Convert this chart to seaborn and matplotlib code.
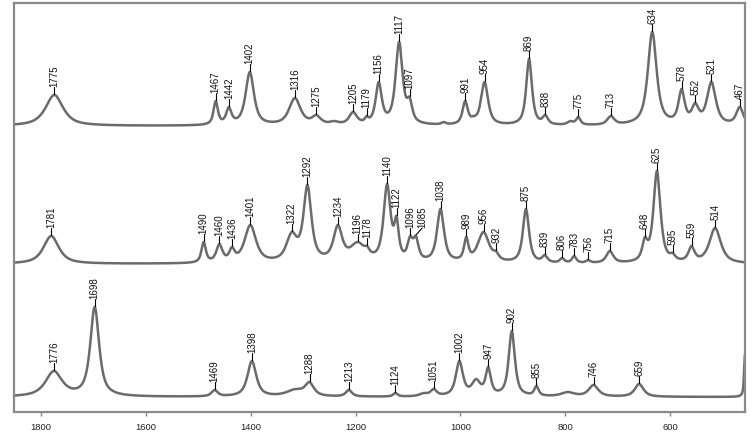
import numpy as np
import pandas as pd
import matplotlib
matplotlib.use("Agg")
import matplotlib.pyplot as plt
import seaborn as sns

sns.set_theme(style="white")
plt.rcParams["font.family"] = ["Liberation Sans", "DejaVu Sans"]

# bands: position (cm-1), height above baseline, width (FWHM, cm-1)
top_pos    = [1775, 1467, 1442, 1402, 1316, 1275, 1241, 1205, 1179, 1156, 1117, 1097, 1032, 1012, 991, 975, 954, 869, 838, 790, 775, 713, 634, 578, 552, 521, 467]
top_height = [31, 25, 19, 54, 28, 11, 5, 14, 10, 44, 84, 29, 4, 3, 25, 10, 44, 67, 11, 5, 9, 10, 94, 37, 23, 44, 19]
top_width  = [40, 10, 12, 19, 26, 20, 20, 18, 8, 14, 16, 12, 10, 10, 12, 12, 16, 13, 12, 14, 10, 16, 20, 14, 16, 20, 16]
top_labels = [1775, 1467, 1442, 1402, 1316, 1275, 1205, 1179, 1156, 1117, 1097, 991, 954, 869, 838, 775, 713, 634, 578, 552, 521, 467]

mid_pos    = [1781, 1490, 1460, 1436, 1401, 1322, 1292, 1234, 1196, 1178, 1140, 1122, 1096, 1085, 1038, 989, 956, 932, 875, 839, 806, 783, 756, 715, 648, 625, 595, 559, 514]
mid_height = [28, 22, 20, 17, 39, 32, 79, 39, 22, 18, 80, 48, 28, 28, 55, 27, 32, 13, 55, 9, 6, 8, 4, 13, 27, 93, 11, 18, 36]
mid_width  = [35, 10, 14, 12, 26, 24, 18, 20, 35, 10, 16, 10, 12, 12, 16, 10, 26, 12, 14, 12, 10, 10, 10, 16, 12, 16, 12, 14, 26]
mid_labels = [1781, 1490, 1460, 1436, 1401, 1322, 1292, 1234, 1196, 1178, 1140, 1122, 1096, 1085, 1038, 989, 956, 932, 875, 839, 806, 783, 756, 715, 648, 625, 595, 559, 514]

bot_pos    = [1776, 1698, 1469, 1398, 1315, 1288, 1213, 1124, 1070, 1051, 1002, 970, 947, 902, 855, 795, 746, 659, 457]
bot_height = [26, 90, 7, 36, 8, 15, 7, 4, 4, 8, 36, 18, 30, 66, 11, 5, 12, 13, 42]
bot_width  = [38, 20, 14, 20, 40, 20, 14, 10, 20, 14, 16, 20, 12, 14, 10, 30, 22, 20, 4]
bot_labels = [1776, 1698, 1469, 1398, 1288, 1213, 1124, 1051, 1002, 947, 902, 855, 746, 659]

# baseline level of each trace (plot units = pixels above the bottom spine)
baselines = [286, 148, 15]
# labels whose text sits a bit away from the peak
label_shift = {1085: -12}

grid = np.linspace(450, 1860, 3000)


def band(x, c, w):
    g = np.exp(-4 * np.log(2) * ((x - c) / w) ** 2)
    l = 1 / (1 + 4 * ((x - c) / w) ** 2)
    return 0.8 * l + 0.2 * g


def spectrum(pos, height, width):
    pos = np.array(pos, float)
    width = np.array(width, float)
    # solve for amplitudes so the summed curve reaches each read height at its band
    m = np.array([[band(p, c, w) for c, w in zip(pos, width)] for p in pos])
    amp = np.linalg.solve(m, np.array(height, float))
    return sum(a * band(grid, c, w) for a, c, w in zip(amp, pos, width))


traces = [
    (top_pos, top_height, top_width, top_labels),
    (mid_pos, mid_height, mid_width, mid_labels),
    (bot_pos, bot_height, bot_width, bot_labels),
]

fig = plt.figure(figsize=(7.5, 4.35), dpi=100)
ax = fig.add_axes([14 / 750, 22 / 435, 731 / 750, 409 / 435])

line_color = "#6b6b6b"
for (pos, height, width, labels), base in zip(traces, baselines):
    y = base + spectrum(pos, height, width)
    df = pd.DataFrame({"wavenumber": grid, "signal": y})
    sns.lineplot(data=df, x="wavenumber", y="signal", color=line_color, lw=1.8, ax=ax)
    for lab in labels:
        yp = np.interp(lab, grid, y)
        tx = lab + label_shift.get(lab, 0)
        ax.plot([lab, tx], [yp + 1, yp + 8], color="black", lw=0.8)
        ax.text(tx, yp + 9, str(lab), rotation=90, ha="center", va="bottom",
                fontsize=7, color="#111111")

ax.set_xlim(1852, 457)
ax.set_ylim(0, 409)
ax.set_xticks([1800, 1600, 1400, 1200, 1000, 800, 600])
ax.set_yticks([])
ax.set_xlabel("")
ax.set_ylabel("")
ax.tick_params(axis="x", direction="out", length=3, width=1, color="#888888",
               labelsize=6.8, labelcolor="#222222", pad=4, bottom=True)
for s in ax.spines.values():
    s.set_color("#8a8a8a")
    s.set_linewidth(1.6)

fig.savefig("out.png", dpi=100)
